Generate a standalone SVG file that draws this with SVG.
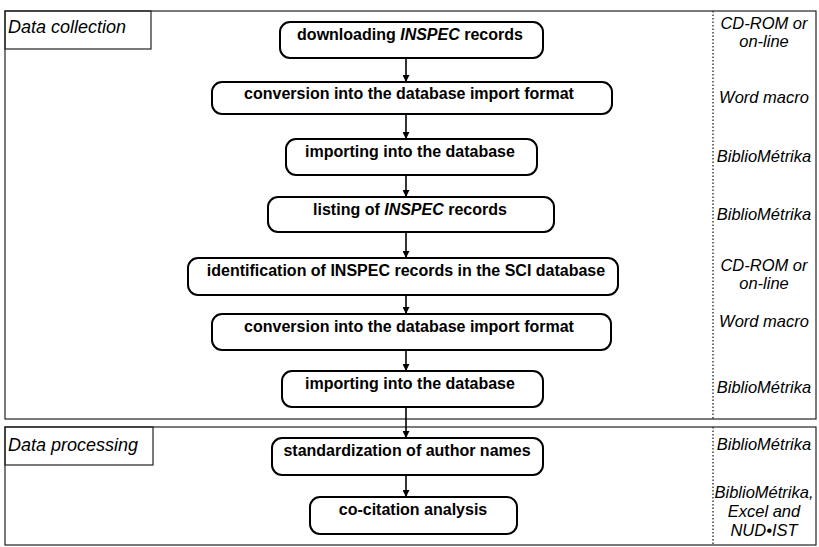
<svg xmlns="http://www.w3.org/2000/svg" width="819" height="547" viewBox="0 0 819 547">
<style>
.frame{fill:none;stroke:#222;stroke-width:1.2}
.dot{fill:none;stroke:#222;stroke-width:1.3;stroke-dasharray:1.5 2}
.node{fill:#fff;stroke:#000;stroke-width:2}
.nt{font-family:"Liberation Sans",Arial,sans-serif;font-weight:bold;font-size:16px;text-anchor:middle;fill:#000}
.hd{font-family:"Liberation Sans",Arial,sans-serif;font-style:italic;font-size:18px;fill:#000}
.tl{font-family:"Liberation Sans",Arial,sans-serif;font-style:italic;font-size:16.5px;text-anchor:middle;fill:#000}
.edge{stroke:#000;stroke-width:1.6;fill:none;marker-end:url(#ah)}
</style>
<defs>
<marker id="ah" viewBox="0 0 10 10" refX="10" refY="5" markerWidth="7" markerHeight="7" markerUnits="userSpaceOnUse" orient="auto">
<path d="M0,0 L10,5 L0,10 z" fill="#000"/>
</marker>
</defs>
<rect width="819" height="547" fill="#fff"/>
<g id="frame-collection">
<rect class="frame" x="5" y="11" width="811" height="408"/>
<rect class="frame" x="5" y="11" width="146" height="38"/>
<text class="hd" x="8" y="33">Data collection</text>
<line class="dot" x1="713" y1="11" x2="713" y2="419"/>
</g>
<g id="frame-processing">
<rect class="frame" x="5" y="427" width="811" height="118"/>
<rect class="frame" x="5" y="427" width="148" height="38"/>
<text class="hd" x="8" y="451">Data processing</text>
<line class="dot" x1="713" y1="427" x2="713" y2="545"/>
</g>
<g id="tools">
<text class="tl" x="764" y="29">CD-ROM or</text>
<text class="tl" x="764" y="47">on-line</text>
<text class="tl" x="764" y="103">Word macro</text>
<text class="tl" x="764" y="162">BiblioMétrika</text>
<text class="tl" x="764" y="220">BiblioMétrika</text>
<text class="tl" x="764" y="271">CD-ROM or</text>
<text class="tl" x="764" y="289">on-line</text>
<text class="tl" x="764" y="327">Word macro</text>
<text class="tl" x="764" y="393">BiblioMétrika</text>
<text class="tl" x="764" y="450">BiblioMétrika</text>
<text class="tl" x="764" y="498">BiblioMétrika,</text>
<text class="tl" x="764" y="517">Excel and</text>
<text class="tl" x="764" y="536">NUD•IST</text>
</g>
<g id="connectors">
<line class="edge" x1="406" y1="58" x2="406" y2="82"/>
<line class="edge" x1="406" y1="114" x2="406" y2="139"/>
<line class="edge" x1="406" y1="175" x2="406" y2="197"/>
<line class="edge" x1="406" y1="232" x2="406" y2="258"/>
<line class="edge" x1="406" y1="295" x2="406" y2="314"/>
<line class="edge" x1="406" y1="350" x2="406" y2="371"/>
<line class="edge" x1="406" y1="407" x2="406" y2="438"/>
<line class="edge" x1="406" y1="475" x2="406" y2="497"/>
</g>
<g id="n1">
<rect class="node" x="280" y="22" width="263" height="36" rx="10"/>
<text class="nt" x="410" y="40">downloading <tspan font-style="italic">INSPEC</tspan> records</text>
</g>
<g id="n2">
<rect class="node" x="212" y="82" width="400" height="32" rx="10"/>
<text class="nt" x="409" y="99">conversion into the database import format</text>
</g>
<g id="n3">
<rect class="node" x="286" y="139" width="251" height="36" rx="10"/>
<text class="nt" x="410" y="157">importing into the database</text>
</g>
<g id="n4">
<rect class="node" x="268" y="197" width="286" height="35" rx="10"/>
<text class="nt" x="410" y="215">listing of <tspan font-style="italic">INSPEC</tspan> records</text>
</g>
<g id="n5">
<rect class="node" x="188" y="258" width="430" height="37" rx="10"/>
<text class="nt" x="406" y="276">identification of INSPEC records in the SCI database</text>
</g>
<g id="n6">
<rect class="node" x="212" y="314" width="399" height="36" rx="10"/>
<text class="nt" x="409" y="332">conversion into the database import format</text>
</g>
<g id="n7">
<rect class="node" x="282" y="371" width="261" height="36" rx="10"/>
<text class="nt" x="410" y="389">importing into the database</text>
</g>
<g id="n8">
<rect class="node" x="272" y="438" width="271" height="37" rx="10"/>
<text class="nt" x="407" y="456">standardization of author names</text>
</g>
<g id="n9">
<rect class="node" x="310" y="497" width="207" height="37" rx="10"/>
<text class="nt" x="413" y="515">co-citation analysis</text>
</g>
</svg>
